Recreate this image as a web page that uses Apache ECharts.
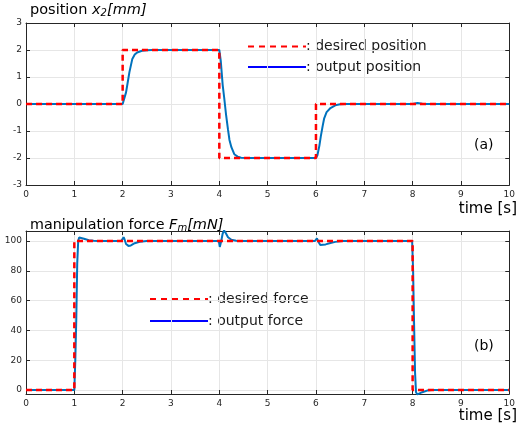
<!DOCTYPE html>
<html>
<head>
<meta charset="utf-8">
<script src="https://cdn.jsdelivr.net/npm/echarts@6/dist/echarts.min.js"></script>
<style>
  html, body { margin: 0; padding: 0; background: #fff; }
  #chart { width: 518px; height: 423px; }
</style>
</head>
<body>
<div id="chart"></div>
<script>
// (a) position x2 [mm]
const posDesT = [0, 2, 2, 4, 4, 6, 6, 10]
const posDes = [0, 0, 2, 2, -2, -2, 0, 0]
const posOutT = [0, 2.0, 2.03, 2.07, 2.1, 2.14, 2.2, 2.25, 2.3, 2.4, 2.5, 2.6,
  4.0, 4.03, 4.07, 4.1, 4.14, 4.18, 4.21, 4.25, 4.31, 4.38, 4.45, 4.6,
  6.0, 6.03, 6.07, 6.1, 6.14, 6.17, 6.22, 6.3, 6.4, 6.5, 6.6,
  8.0, 8.05, 8.1, 8.2, 8.3, 10]
const posOut = [0, 0, 0.07, 0.43, 0.75, 1.18, 1.67, 1.83, 1.91, 1.97, 1.99, 2,
  2, 1.6, 0.7, 0.25, -0.4, -0.95, -1.33, -1.6, -1.86, -1.95, -1.99, -2,
  -2, -1.9, -1.55, -1.2, -0.8, -0.53, -0.3, -0.15, -0.05, -0.01, 0,
  0, 0.02, 0.04, 0.01, 0, 0]

// (b) manipulation force Fm [mN]
const frcDesT = [0, 1, 1, 8, 8, 10]
const frcDes = [0, 0, 100, 100, 0, 0]
const frcOutT = [0, 1.0, 1.02, 1.04, 1.06, 1.08, 1.1, 1.14, 1.2, 1.3, 1.4, 1.5,
  1.97, 2.0, 2.02, 2.04, 2.07, 2.12, 2.17, 2.25, 2.35, 2.5,
  3.99, 4.01, 4.04, 4.07, 4.1, 4.13, 4.18, 4.25, 4.35, 4.5,
  5.98, 6.0, 6.02, 6.05, 6.09, 6.13, 6.2, 6.3, 6.4, 6.55,
  7.99, 8.01, 8.03, 8.05, 8.07, 8.1, 8.13, 8.2, 8.3, 8.4, 10]
const frcOut = [0, 0, 20, 47, 85, 100, 102.3, 102.5, 101.5, 100.5, 100.1, 100,
  100, 100.5, 102.5, 101, 98, 96.7, 97, 98.5, 99.5, 100,
  100, 96, 100, 105, 107, 105.5, 102.5, 100.8, 100.2, 100,
  100, 100.5, 101.8, 99.5, 97.3, 96.8, 97.7, 98.7, 99.4, 100,
  100, 80, 45, 12, -1.5, -3, -2.8, -1.5, -0.4, 0, 0]

// tick labels
const timeTicks = [0, 1, 2, 3, 4, 5, 6, 7, 8, 9, 10]
const posTicks = [-3, -2, -1, 0, 1, 2, 3]
const frcTicks = [0, 20, 40, 60, 80, 100]

const pairs = (t, v) => t.map((x, i) => [x, v[i]])

const axisColor = '#262626'
const gridColor = '#e6e6e6'
const font = 'DejaVu Sans'
const red = '#ff0000'
const blue = '#0072bd'

function xAx(grid, pos) {
  const main = pos === 'bottom'
  return {
    type: 'value', gridIndex: grid, position: pos, min: 0, max: 10, interval: 1,
    axisLine: { show: true, onZero: false, lineStyle: { color: axisColor, width: 1 } },
    axisTick: { show: true, inside: true, length: 4, lineStyle: { color: axisColor }, customValues: timeTicks },
    axisLabel: { show: main, color: axisColor, fontSize: 9, fontFamily: font, margin: 5, customValues: timeTicks },
    splitLine: { show: main, lineStyle: { color: gridColor, width: 1 } }
  }
}

function yAx(grid, pos, min, max, ticks) {
  const main = pos === 'left'
  return {
    type: 'value', gridIndex: grid, position: pos, min: min, max: max, interval: ticks[1] - ticks[0],
    axisLine: { show: true, onZero: false, lineStyle: { color: axisColor, width: 1 } },
    axisTick: { show: true, inside: true, length: 4, lineStyle: { color: axisColor }, customValues: ticks },
    axisLabel: { show: main, color: axisColor, fontSize: 9, fontFamily: font, margin: 4, customValues: ticks },
    splitLine: { show: main, lineStyle: { color: gridColor, width: 1 } }
  }
}

// legend drawn as line + ": label" like the original figure
function legendItem(x, y, label, dashed) {
  return [
    { type: 'line', shape: { x1: x, y1: y, x2: x + 58, y2: y },
      style: { stroke: dashed ? red : '#0000ff', lineWidth: 2, lineDash: dashed ? [6, 5] : null } },
    { type: 'text', x: x + 58, y: y,
      style: { text: ': ' + label, font: '14px "DejaVu Sans"', fill: '#1a1a1a', verticalAlign: 'middle' } }
  ]
}

const chart = echarts.init(document.getElementById('chart'), null, { renderer: 'canvas' })

const titleRich = {
  i: { fontStyle: 'italic', fontSize: 14.5, fontFamily: font, color: '#000' },
  s: { fontStyle: 'italic', fontSize: 10, fontFamily: font, color: '#000', verticalAlign: 'bottom', padding: [4, 0, 0, 0] }
}

chart.setOption({
  animation: false,
  textStyle: { fontFamily: font },
  title: [
    { text: 'position {i|x}{s|2}{i|[mm]}', left: 30, top: 3, padding: 0,
      textStyle: { fontSize: 14.5, fontWeight: 'normal', color: '#000', fontFamily: font, rich: titleRich } },
    { text: 'manipulation force {i|F}{s|m}{i|[mN]}', left: 30, top: 218, padding: 0,
      textStyle: { fontSize: 14.3, fontWeight: 'normal', color: '#000', fontFamily: font, rich: titleRich } }
  ],
  grid: [
    { left: 26, right: 4.5, top: 23, height: 162 },
    { left: 26, right: 4.5, top: 231, height: 163 }
  ],
  xAxis: [xAx(0, 'bottom'), xAx(0, 'top'), xAx(1, 'bottom'), xAx(1, 'top')],
  yAxis: [
    yAx(0, 'left', -3, 3, posTicks), yAx(0, 'right', -3, 3, posTicks),
    yAx(1, 'left', -2.7, 106.7, frcTicks), yAx(1, 'right', -2.7, 106.7, frcTicks)
  ],
  graphic: [
    ...legendItem(248, 46.5, 'desired position', true),
    ...legendItem(248, 67, 'output position', false),
    ...legendItem(150, 299, 'desired force', true),
    ...legendItem(150, 321, 'output force', false),
    { type: 'text', right: 1, top: 202, style: { text: 'time [s]', font: '15px "DejaVu Sans"', fill: '#000' } },
    { type: 'text', right: 1, top: 409, style: { text: 'time [s]', font: '15px "DejaVu Sans"', fill: '#000' } },
    { type: 'text', left: 474, top: 138, style: { text: '(a)', font: '14px "DejaVu Sans"', fill: '#000' } },
    { type: 'text', left: 474, top: 339, style: { text: '(b)', font: '14px "DejaVu Sans"', fill: '#000' } }
  ],
  series: [
    { name: 'output position', type: 'line', xAxisIndex: 0, yAxisIndex: 0, data: pairs(posOutT, posOut),
      showSymbol: false, symbol: 'none', clip: false, lineStyle: { color: blue, width: 2 } },
    { name: 'desired position', type: 'line', xAxisIndex: 0, yAxisIndex: 0, data: pairs(posDesT, posDes),
      showSymbol: false, symbol: 'none', clip: false, lineStyle: { color: red, width: 2.5, type: [6, 4] } },
    { name: 'output force', type: 'line', xAxisIndex: 2, yAxisIndex: 2, data: pairs(frcOutT, frcOut),
      showSymbol: false, symbol: 'none', clip: false, lineStyle: { color: blue, width: 2 } },
    { name: 'desired force', type: 'line', xAxisIndex: 2, yAxisIndex: 2, data: pairs(frcDesT, frcDes),
      showSymbol: false, symbol: 'none', clip: false, lineStyle: { color: red, width: 2.5, type: [6, 4] } }
  ]
})
</script>
</body>
</html>
